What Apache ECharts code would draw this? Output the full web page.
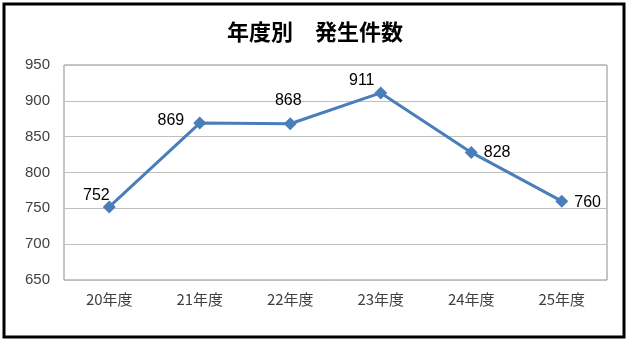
<!DOCTYPE html>
<html><head><meta charset="utf-8">
<script src="https://cdn.jsdelivr.net/npm/echarts@6/dist/echarts.min.js"></script>
<style>html,body{margin:0;padding:0;background:#fff}#c{width:630px;height:345px}</style>
</head><body><div id="c"></div>
<script>
const categories = ['20年度','21年度','22年度','23年度','24年度','25年度'];
const counts = [752, 869, 868, 911, 828, 760];
const yTicks = {min: 650, max: 950, interval: 50};
const labelPos = [
  {position: 'left', offset: [13, -11]},
  {position: 'left', offset: [-3, -2]},
  {position: 'top', offset: [-2, -3]},
  {position: 'top', offset: [-19, 8]},
  {position: 'right', offset: [0, 0]},
  {position: 'right', offset: [0, 1]}
];
const chart = echarts.init(document.getElementById('c'), null, {renderer: 'canvas'});
chart.setOption({
  animation: false,
  backgroundColor: '#fff',
  title: {
    text: '年度別　発生件数', left: 'center', top: 16,
    textStyle: {fontFamily: '"Noto Sans CJK JP", sans-serif', fontSize: 22, fontWeight: 'bold', color: '#000'}
  },
  graphic: [{type: 'rect', shape: {x: 4, y: 4, width: 620, height: 333},
    style: {fill: 'none', stroke: '#000', lineWidth: 3}, z: 10}],
  grid: {left: 64, right: 23, top: 65, bottom: 65, show: true, borderColor: '#8c8c8c', borderWidth: 1},
  xAxis: {
    type: 'category', data: categories, boundaryGap: true,
    axisLine: {show: false}, axisTick: {show: false},
    axisLabel: {color: '#404040', fontSize: 15, margin: 12, fontFamily: '"Noto Sans CJK JP", sans-serif'}
  },
  yAxis: {
    type: 'value', min: yTicks.min, max: yTicks.max, interval: yTicks.interval,
    axisLine: {show: false}, axisTick: {show: false},
    axisLabel: {color: '#404040', fontSize: 15, margin: 14, fontFamily: 'Arial, "Liberation Sans", sans-serif'},
    splitLine: {lineStyle: {color: '#bfbfbf', width: 1}}
  },
  series: [{
    type: 'line',
    data: counts.map((v, i) => ({value: v, label: {show: true, position: labelPos[i].position, offset: labelPos[i].offset}})),
    symbol: 'diamond', symbolSize: 13,
    lineStyle: {color: '#4a7ebb', width: 3},
    itemStyle: {color: '#4a7ebb'},
    label: {show: true, color: '#000', fontSize: 16, fontFamily: 'Arial, "Liberation Sans", sans-serif', distance: 6}
  }]
});
</script></body></html>
